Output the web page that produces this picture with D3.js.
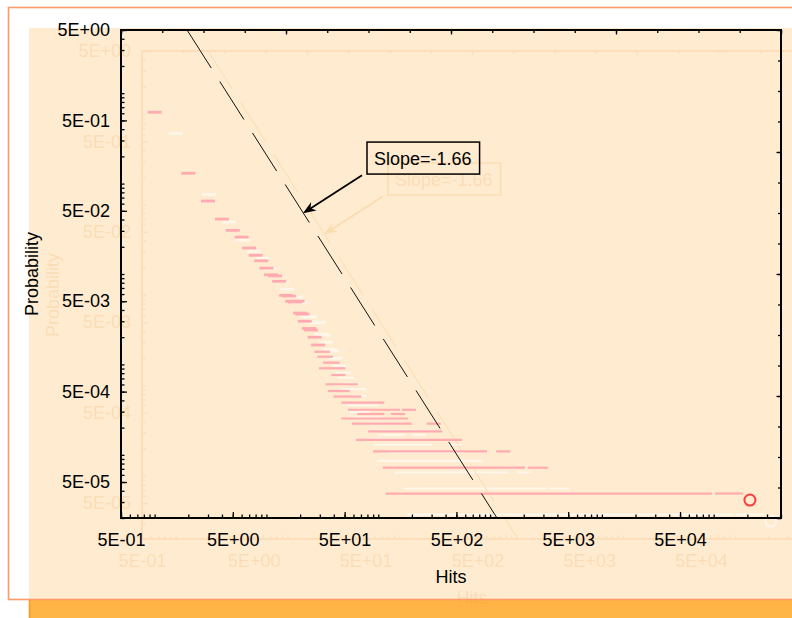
<!DOCTYPE html>
<html>
<head>
<meta charset="utf-8">
<script src="https://cdn.jsdelivr.net/npm/d3@7/dist/d3.min.js"></script>
<style>
  body { margin: 0; background: #fff; }
  text { font-family: "Liberation Sans", Arial, sans-serif; }
</style>
</head>
<body>
<svg id="chart" width="792" height="618"></svg>
<script>
// axis ranges and tick labels
var xDomain = [0.5, 4e5];
var yDomain = [2e-5, 5];
var xTickValues = [0.5, 5, 50, 500, 5000, 50000];
var xTickLabels = ["5E-01", "5E+00", "5E+01", "5E+02", "5E+03", "5E+04"];
var yTickValues = [5, 0.5, 0.05, 0.005, 0.0005, 0.00005];
var yTickLabels = ["5E+00", "5E-01", "5E-02", "5E-03", "5E-04", "5E-05"];
var frameDivisions = 16;

// single hit counts with their probability
var hits = [1, 2, 3, 4, 5, 6, 7, 8, 9, 10, 11, 12, 13, 15, 16, 17, 18, 19, 20, 21, 22, 24, 25, 27, 29];
var prob = [0.615, 0.130, 0.0642, 0.0405, 0.0304, 0.0256, 0.0194, 0.0161, 0.0140, 0.0116,
            0.0098, 0.0095, 0.0083, 0.0058, 0.0057, 0.0050, 0.0049, 0.0050, 0.0037, 0.0036,
            0.0030, 0.0025, 0.0024, 0.0020, 0.00164];

// runs of hit counts sharing one probability level (they merge into streaks)
var runProb = [3.73e-5, 3.73e-5, 7.2e-5, 7.2e-5, 1.09e-4, 1.09e-4, 1.46e-4, 1.82e-4,
               2.21e-4, 2.21e-4, 2.52e-4, 2.83e-4, 2.83e-4, 3.15e-4, 3.15e-4, 3.77e-4,
               4.41e-4, 5.08e-4, 6.03e-4, 7.64e-4, 9.06e-4, 1.045e-3, 1.216e-3, 1.38e-3];
var runFrom = [135, 119000, 127, 2520, 104, 1310, 73, 94,
               67, 313, 54, 75, 150, 62, 188, 54,
               46, 41, 39, 44, 34, 37, 33, 31];
var runTo   = [83700, 159000, 1780, 2860, 813, 1310, 485, 322,
               172, 313, 159, 98, 150, 135, 188, 98,
               61, 48, 57, 44, 44, 39, 34, 32];

// the largest value, circled
var maxHits = [211000];
var maxProb = [3.16e-5];

// fitted power law (end points as drawn)
var fitHits = [1.95, 1153];
var fitProb = [5, 2e-5];
var slopeLabel = "Slope=-1.66";
var arrowTip = [21.2, 0.047];
var arrowTail = [71.6, 0.124];
var labelCorner = [79.3, 0.288];

var plot = { left: 121, top: 30, right: 781, bottom: 518 };

var svg = d3.select("#chart");

var x = d3.scaleLog().domain(xDomain).range([plot.left, plot.right]);
var y = d3.scaleLog().domain(yDomain).range([plot.bottom, plot.top]);
var xTop = d3.scaleLinear().domain([0, frameDivisions]).range([plot.left, plot.right]);
var yRight = d3.scaleLinear().domain([0, frameDivisions]).range([plot.bottom, plot.top]);

// page background
svg.append("rect").attr("x", 29).attr("y", 28).attr("width", 770).attr("height", 572).attr("fill", "#feebd0");
svg.append("rect").attr("x", 29).attr("y", 599).attr("width", 770).attr("height", 25).attr("fill", "#ffb445");
svg.append("line").attr("x1", 29.5).attr("x2", 29.5).attr("y1", 599).attr("y2", 618)
  .attr("stroke", "#ff9a10").attr("stroke-width", 1.5);
svg.append("rect").attr("x", 8.5).attr("y", 7.5).attr("width", 800).attr("height", 592)
  .attr("fill", "none").attr("stroke", "#ff9a6a").attr("stroke-width", 1.6);

var ghost = {
  dx: 21, dy: 21, text: "#f0a040", textOpacity: 0.2, frame: "#fcdfba", mark: "#fff6ea",
  fit: "#fbdcb0", box: "#fbdcb0", circle: "#fff6ea"
};
var main = {
  dx: 0, dy: 0, text: "#000", textOpacity: 1, frame: "#000", mark: "#ffabb0",
  fit: "#111", box: "#000", circle: "#ff3b3b"
};

function styleAxis(a, c) {
  a.select(".domain").remove();
  a.attr("font-size", 18).attr("font-family", "'Liberation Sans', Arial, sans-serif");
  a.selectAll(".tick line").attr("stroke", c.frame).attr("stroke-width", 1.3);
  a.selectAll(".tick text").attr("fill", c.text).attr("fill-opacity", c.textOpacity);
}

function drawLayer(c) {
  var g = svg.append("g").attr("transform", "translate(" + c.dx + "," + c.dy + ")");

  // streaks
  g.selectAll(".run").data(runProb).enter().append("line")
    .attr("x1", function(d, i) { return x(runFrom[i]) - 7; })
    .attr("x2", function(d, i) { return x(runTo[i]) + 7; })
    .attr("y1", function(d) { return y(d); })
    .attr("y2", function(d) { return y(d); })
    .attr("stroke", c.mark).attr("stroke-width", 2.2);

  // single points drawn as short dashes
  g.selectAll(".pt").data(hits).enter().append("line")
    .attr("x1", function(d) { return x(d) - 7; })
    .attr("x2", function(d) { return x(d) + 7; })
    .attr("y1", function(d, i) { return y(prob[i]); })
    .attr("y2", function(d, i) { return y(prob[i]); })
    .attr("stroke", c.mark).attr("stroke-width", 2.8);

  g.selectAll(".max").data(maxHits).enter().append("circle")
    .attr("cx", function(d) { return x(d); })
    .attr("cy", function(d, i) { return y(maxProb[i]); })
    .attr("r", 5.5)
    .attr("fill", "none").attr("stroke", c.circle).attr("stroke-width", 2);

  // fitted line
  var fit = d3.line().x(function(d) { return x(d); }).y(function(d, i) { return y(fitProb[i]); });
  g.append("path").attr("d", fit(fitHits))
    .attr("fill", "none").attr("stroke", c.fit).attr("stroke-width", 1)
    .attr("stroke-dasharray", "45,16");

  // frame
  g.append("rect").attr("x", plot.left).attr("y", plot.top)
    .attr("width", plot.right - plot.left).attr("height", plot.bottom - plot.top)
    .attr("fill", "none").attr("stroke", c.frame).attr("stroke-width", 2);

  // log ticks, pointing inwards
  var ax = g.append("g").attr("transform", "translate(0," + plot.bottom + ")")
    .call(d3.axisBottom(x).tickValues(x.ticks()).tickSize(-3.5).tickFormat(""));
  styleAxis(ax, c);
  ax = g.append("g").attr("transform", "translate(0," + plot.bottom + ")")
    .call(d3.axisBottom(x).tickValues(xTickValues).tickSize(-6).tickPadding(15)
      .tickFormat(function(d, i) { return xTickLabels[i]; }));
  styleAxis(ax, c);

  ax = g.append("g").attr("transform", "translate(" + plot.left + ",0)")
    .call(d3.axisLeft(y).tickValues(y.ticks()).tickSize(-3.5).tickFormat(""));
  styleAxis(ax, c);
  ax = g.append("g").attr("transform", "translate(" + plot.left + ",0)")
    .call(d3.axisLeft(y).tickValues(yTickValues).tickSize(-6).tickPadding(11)
      .tickFormat(function(d, i) { return yTickLabels[i]; }));
  styleAxis(ax, c);

  // plain ticks on the top and right edges
  var steps = d3.range(frameDivisions + 1);
  var majors = steps.filter(function(d) { return d % 4 === 0; });
  ax = g.append("g").attr("transform", "translate(0," + plot.top + ")")
    .call(d3.axisTop(xTop).tickValues(steps).tickSize(-3).tickFormat(""));
  styleAxis(ax, c);
  ax = g.append("g").attr("transform", "translate(0," + plot.top + ")")
    .call(d3.axisTop(xTop).tickValues(majors).tickSize(-4.5).tickFormat(""));
  styleAxis(ax, c);
  ax = g.append("g").attr("transform", "translate(" + plot.right + ",0)")
    .call(d3.axisRight(yRight).tickValues(steps).tickSize(-3).tickFormat(""));
  styleAxis(ax, c);
  ax = g.append("g").attr("transform", "translate(" + plot.right + ",0)")
    .call(d3.axisRight(yRight).tickValues(majors).tickSize(-4.5).tickFormat(""));
  styleAxis(ax, c);

  // axis titles
  g.append("text").attr("x", (plot.left + plot.right) / 2).attr("y", 583)
    .attr("text-anchor", "middle").attr("font-size", 18)
    .attr("fill", c.text).attr("fill-opacity", c.textOpacity).text("Hits");
  g.append("text").attr("transform", "translate(38," + (plot.top + plot.bottom) / 2 + ") rotate(-90)")
    .attr("text-anchor", "middle").attr("font-size", 18)
    .attr("fill", c.text).attr("fill-opacity", c.textOpacity).text("Probability");

  // slope annotation
  var bx = x(labelCorner[0]), by = y(labelCorner[1]);
  var label = g.append("text").attr("x", bx + 7).attr("y", by + 23)
    .attr("font-size", 18).attr("fill", c.text).attr("fill-opacity", c.textOpacity).text(slopeLabel);
  var tw = label.node().getComputedTextLength();
  g.append("rect").attr("x", bx).attr("y", by)
    .attr("width", tw + 15).attr("height", 32)
    .attr("fill", "none").attr("stroke", c.box).attr("stroke-width", 1.5);

  var tx = x(arrowTip[0]), ty = y(arrowTip[1]);
  var sx = x(arrowTail[0]), sy = y(arrowTail[1]);
  var len = Math.hypot(tx - sx, ty - sy);
  var ux = (tx - sx) / len, uy = (ty - sy) / len;
  var nx = -uy, ny = ux;
  g.append("line").attr("x1", sx).attr("y1", sy)
    .attr("x2", tx - ux * 8).attr("y2", ty - uy * 8)
    .attr("stroke", c.box).attr("stroke-width", 1.8);
  g.append("path")
    .attr("d", "M" + tx + "," + ty +
      "L" + (tx - ux * 13 + nx * 5) + "," + (ty - uy * 13 + ny * 5) +
      "L" + (tx - ux * 9) + "," + (ty - uy * 9) +
      "L" + (tx - ux * 13 - nx * 5) + "," + (ty - uy * 13 - ny * 5) + "Z")
    .attr("fill", c.box);
}

drawLayer(ghost);
drawLayer(main);
</script>
</body>
</html>
